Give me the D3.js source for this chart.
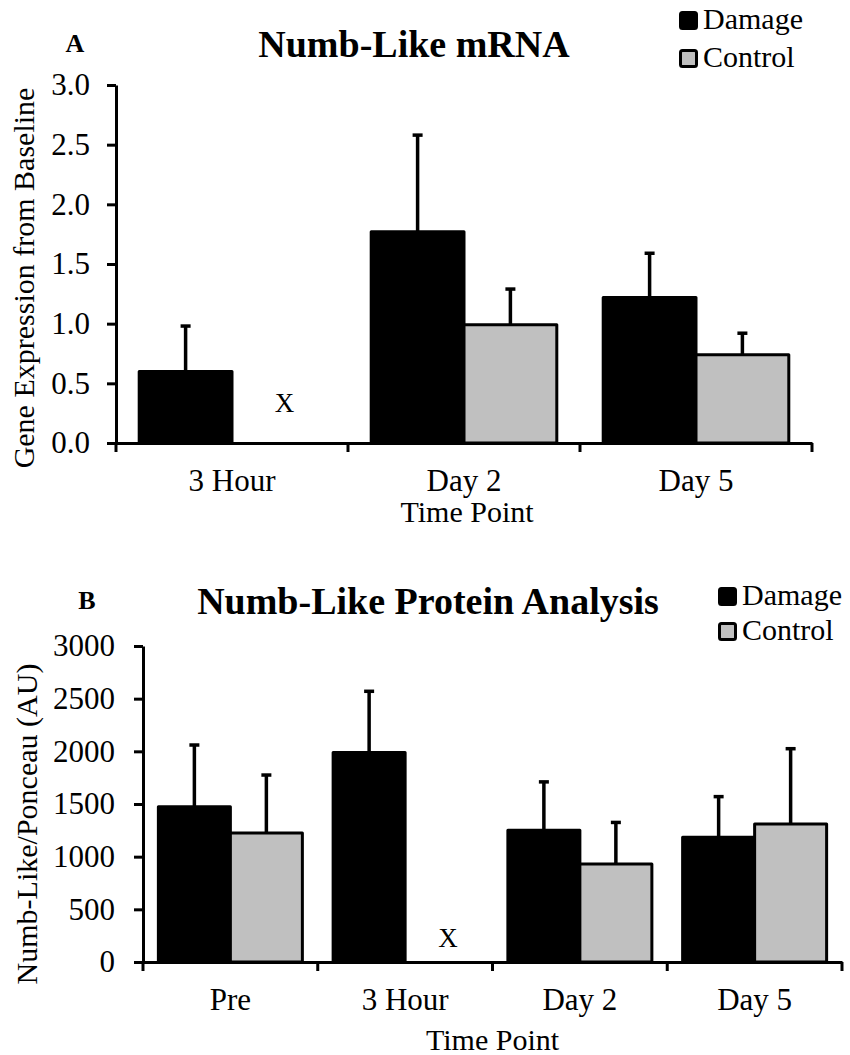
<!DOCTYPE html>
<html lang="en">
<head>
    <meta charset="UTF-8">
    <title>Numb-Like</title>
    <script src="https://cdn.jsdelivr.net/npm/d3@7/dist/d3.min.js"></script>
    <style>
        body{
            margin:0px;
            background:#fff;
        }
        svg{
            position:absolute;
            left:0px;
            top:0px;
        }
        text{
            font-family:"Liberation Serif","Times New Roman",serif;
            fill:#000;
        }
    </style>
</head>
<body>
    <svg id="chart" width="850" height="1055"></svg>
    <script>
        // panel A: mRNA
        var categoriesA = ["3 Hour", "Day 2", "Day 5"]
        var damageA = [0.60, 1.77, 1.22]
        var damageErrA = [0.38, 0.81, 0.37]
        var controlA = [null, 0.99, 0.74]
        var controlErrA = [null, 0.30, 0.18]
        var yTicksA = [0, 0.5, 1.0, 1.5, 2.0, 2.5, 3.0]

        // panel B: protein
        var categoriesB = ["Pre", "3 Hour", "Day 2", "Day 5"]
        var damageB = [1475, 1990, 1250, 1185]
        var damageErrB = [585, 580, 460, 385]
        var controlB = [1225, null, 930, 1310]
        var controlErrB = [550, null, 395, 715]
        var yTicksB = [0, 500, 1000, 1500, 2000, 2500, 3000]

        var seriesNames = ["Damage", "Control"]
        var fills = {Damage: "#000000", Control: "#c0c0c0"}

        var svg = d3.select("#chart")

        function drawPanel(p){
            var g = svg.append("g")

            var y = d3.scaleLinear().domain([0, p.yTicks[p.yTicks.length - 1]]).range([p.bottom, p.top])
            var x = d3.scaleBand().domain(p.categories).range([p.left, p.right]).padding(0)
            var step = x.step()
            var inner = d3.scaleBand().domain(seriesNames)
                .range([step * p.outerPad, step * (1 - p.outerPad)]).padding(0)

            // rows of bar data built from the arrays
            var rows = []
            p.categories.forEach(function(c, i){
                rows.push({cat: c, s: "Damage", v: p.damage[i], e: p.damageErr[i]})
                rows.push({cat: c, s: "Control", v: p.control[i], e: p.controlErr[i]})
            })
            var present = rows.filter(function(d){ return d.v != null })
            var missing = rows.filter(function(d){ return d.v == null })

            function cx(d){ return x(d.cat) + inner(d.s) + inner.bandwidth() / 2 }

            // error bars (upper only) drawn behind bars
            var eb = g.append("g").attr("stroke", "#000").attr("stroke-width", 3.5)
            eb.selectAll("line.v").data(present).enter().append("line")
                .attr("x1", cx).attr("x2", cx)
                .attr("y1", function(d){ return y(d.v) })
                .attr("y2", function(d){ return y(d.v + d.e) })
            eb.selectAll("line.cap").data(present).enter().append("line")
                .attr("x1", function(d){ return cx(d) - 5 })
                .attr("x2", function(d){ return cx(d) + 5 })
                .attr("y1", function(d){ return y(d.v + d.e) })
                .attr("y2", function(d){ return y(d.v + d.e) })

            g.selectAll("rect.bar").data(present).enter().append("rect")
                .attr("x", function(d){ return x(d.cat) + inner(d.s) })
                .attr("y", function(d){ return y(d.v) })
                .attr("width", inner.bandwidth())
                .attr("height", function(d){ return y(0) - y(d.v) })
                .attr("fill", function(d){ return fills[d.s] })
                .attr("stroke", "#000")
                .attr("stroke-width", 3)
                .attr("stroke-linejoin", "round")

            // X where no sample
            g.selectAll("text.miss").data(missing).enter().append("text")
                .attr("x", function(d){ return cx(d) + p.missDx })
                .attr("y", y(0) - p.missUp)
                .attr("text-anchor", "middle")
                .style("font-size", "27px")
                .text("X")

            // y axis
            var yAxis = d3.axisLeft(y).tickValues(p.yTicks).tickSize(9).tickSizeOuter(0)
                .tickPadding(p.yPad).tickFormat(p.fmt)
            var ya = g.append("g").attr("transform", "translate(" + p.left + ",0)").call(yAxis)
            ya.selectAll("path, line").attr("stroke", "#000").attr("stroke-width", 3)
            ya.selectAll("text").style("font-size", "31px").style("font-family", "Liberation Serif")

            // x axis: labels centred, ticks on band boundaries
            var xAxis = d3.axisBottom(x).tickSize(0).tickSizeOuter(0).tickPadding(26)
            var xa = g.append("g").attr("transform", "translate(0," + p.bottom + ")").call(xAxis)
            xa.select("path.domain").attr("stroke", "#000").attr("stroke-width", 3)
            xa.selectAll("text").style("font-size", "31px").style("font-family", "Liberation Serif")
            var bounds = p.categories.map(function(c){ return x(c) }).concat([p.right])
            g.append("g").selectAll("line").data(bounds).enter().append("line")
                .attr("x1", function(d){ return d }).attr("x2", function(d){ return d })
                .attr("y1", p.bottom).attr("y2", p.bottom + 9)
                .attr("stroke", "#000").attr("stroke-width", 3)

            // axis titles
            g.append("text")
                .attr("x", (p.left + p.right) / 2 + p.xTitleDx)
                .attr("y", p.xTitleY)
                .attr("text-anchor", "middle")
                .style("font-size", "30px")
                .text("Time Point")
            g.append("text")
                .attr("transform", "translate(" + p.yTitleX + "," + p.yTitleY + ") rotate(-90)")
                .attr("text-anchor", "middle")
                .style("font-size", "30px")
                .text(p.yTitle)

            // panel title and letter
            g.append("text")
                .attr("x", p.titleX).attr("y", p.titleY)
                .attr("text-anchor", "middle")
                .style("font-size", "38px").style("font-weight", "bold")
                .text(p.title)
            g.append("text")
                .attr("x", p.letterX).attr("y", p.letterY)
                .attr("text-anchor", "middle")
                .style("font-size", "26px").style("font-weight", "bold")
                .text(p.letter)

            // legend
            var lg = g.append("g").attr("transform", "translate(" + p.legX + "," + p.legY + ")")
            var items = lg.selectAll("g").data(seriesNames).enter().append("g")
                .attr("transform", function(d, i){ return "translate(0," + (i * p.legStep) + ")" })
            items.append("rect")
                .attr("x", 1.5).attr("y", 1.5).attr("width", 16).attr("height", 16)
                .attr("rx", 2)
                .attr("fill", function(d){ return fills[d] })
                .attr("stroke", "#000").attr("stroke-width", 3)
            items.append("text")
                .attr("x", 24).attr("y", 18)
                .style("font-size", "30px")
                .text(function(d){ return d })
        }

        drawPanel({
            categories: categoriesA, damage: damageA, damageErr: damageErrA,
            control: controlA, controlErr: controlErrA, yTicks: yTicksA,
            fmt: d3.format(".1f"),
            left: 116, right: 812, top: 85, bottom: 443, outerPad: 0.1,
            yPad: 17, missDx: 6, missUp: 31,
            xTitleDx: 3, xTitleY: 522,
            yTitle: "Gene Expression from Baseline", yTitleX: 34, yTitleY: 278,
            title: "Numb-Like mRNA", titleX: 414, titleY: 57,
            letter: "A", letterX: 75, letterY: 52,
            legX: 679, legY: 11, legStep: 38
        })

        drawPanel({
            categories: categoriesB, damage: damageB, damageErr: damageErrB,
            control: controlB, controlErr: controlErrB, yTicks: yTicksB,
            fmt: d3.format("d"),
            left: 143, right: 842, top: 646, bottom: 962, outerPad: 0.088,
            yPad: 19, missDx: 7, missUp: 15,
            xTitleDx: 0, xTitleY: 1050,
            yTitle: "Numb-Like/Ponceau (AU)", yTitleX: 37, yTitleY: 824,
            title: "Numb-Like Protein Analysis", titleX: 428, titleY: 614,
            letter: "B", letterX: 87, letterY: 609,
            legX: 718, legY: 587, legStep: 35
        })
    </script>
</body>
</html>
